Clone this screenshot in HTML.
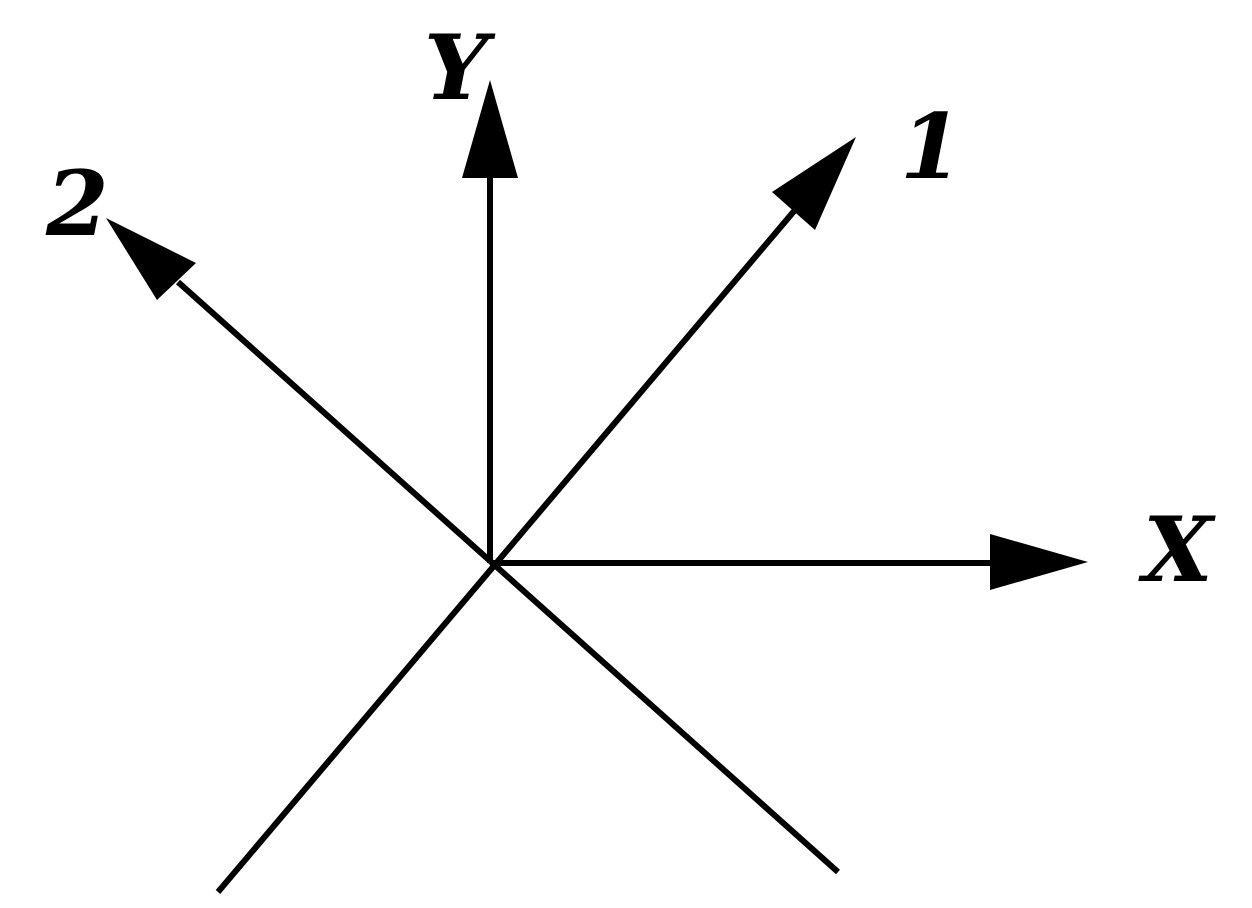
<!DOCTYPE html>
<html><head><style>html,body{margin:0;padding:0;background:#fff;}svg{display:block}</style></head>
<body>
<svg width="1252" height="908" viewBox="0 0 1252 908" xmlns="http://www.w3.org/2000/svg">
<g stroke="#000" stroke-width="6" fill="none">
<line x1="490" y1="563" x2="490" y2="175"/>
<line x1="490" y1="563" x2="995" y2="563"/>
<line x1="218" y1="892" x2="795" y2="210"/>
<line x1="838" y1="872" x2="178" y2="282"/>
</g>
<g fill="#000">
<polygon points="490,80 462,178 518,178"/>
<polygon points="1088,562 990,534 990,590"/>
<polygon points="856,137 772,192 815,230"/>
<polygon points="106,218 157,300 196,263"/>
</g>
<g font-family="DejaVu Serif, serif" font-weight="bold" font-style="italic" font-size="90" fill="#000">
<text x="424" y="99">Y</text>
<text x="900" y="178">1</text>
<text x="46" y="235">2</text>
<text x="1143" y="581">X</text>
</g>
</svg>
</body></html>
